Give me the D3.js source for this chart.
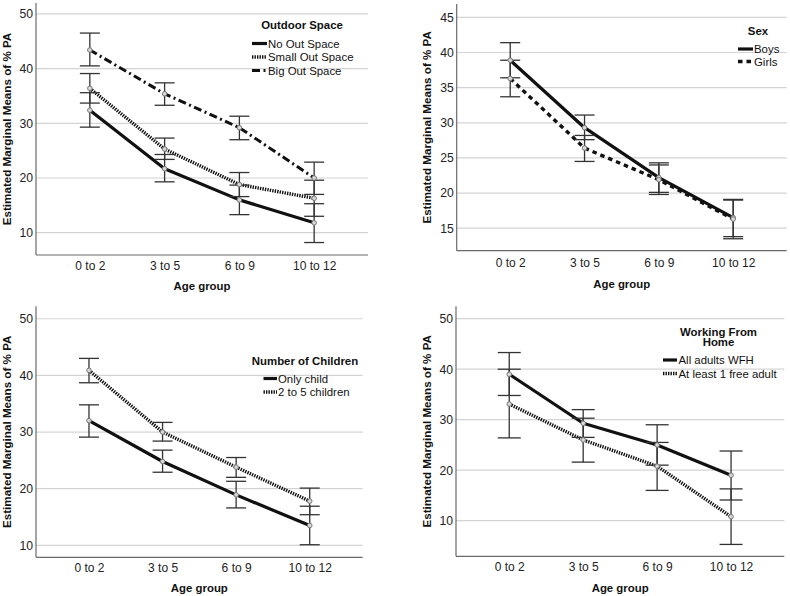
<!DOCTYPE html>
<html>
<head>
<meta charset="utf-8">
<script src="https://cdn.jsdelivr.net/npm/d3@7"></script>
<style>
  html, body { margin: 0; padding: 0; background: #fff; }
  svg { display: block; font-family: "Liberation Sans", Arial, sans-serif; }
</style>
</head>
<body>
<svg id="chart" width="790" height="596"></svg>
<script>
// ---------- DATA ----------
const ageGroups = ["0 to 2", "3 to 5", "6 to 9", "10 to 12"];

// Panel 1: Outdoor Space
const noOutMean    = [32.4, 21.7, 16.0, 11.8];
const noOutLow     = [29.3, 19.3, 13.3, 8.2];
const noOutHigh    = [35.6, 24.3, 18.7, 15.3];
const smallOutMean = [36.4, 25.3, 18.8, 16.3];
const smallOutLow  = [33.7, 23.4, 16.6, 13.0];
const smallOutHigh = [39.1, 27.3, 21.0, 19.6];
const bigOutMean   = [43.4, 35.4, 29.2, 20.0];
const bigOutLow    = [40.5, 33.3, 27.0, 17.0];
const bigOutHigh   = [46.5, 37.4, 31.3, 22.9];

// Panel 2: Sex
const boysMean  = [38.9, 29.3, 22.2, 16.5];
const boysLow   = [36.4, 27.6, 20.1, 13.8];
const boysHigh  = [41.4, 31.1, 24.3, 19.1];
const girlsMean = [36.3, 26.4, 21.9, 16.3];
const girlsLow  = [33.7, 24.5, 19.8, 13.5];
const girlsHigh = [38.9, 28.2, 24.0, 19.0];

// Panel 3: Number of Children
const onlyMean  = [32.0, 24.8, 18.9, 13.5];
const onlyLow   = [29.1, 22.9, 16.6, 10.1];
const onlyHigh  = [34.8, 26.8, 21.3, 16.9];
const multiMean = [40.9, 30.0, 23.8, 17.8];
const multiLow  = [38.7, 28.4, 22.0, 15.4];
const multiHigh = [43.0, 31.7, 25.5, 20.1];

// Panel 4: Working From Home
const wfhMean  = [39.0, 29.3, 25.0, 19.0];
const wfhLow   = [34.8, 26.5, 21.0, 14.1];
const wfhHigh  = [43.3, 32.0, 29.0, 23.8];
const freeMean = [33.1, 26.0, 20.8, 10.8];
const freeLow  = [26.4, 21.6, 16.0, 5.3];
const freeHigh = [40.0, 30.3, 25.5, 16.3];

// Tick labels
const ticksP1 = [10, 20, 30, 40, 50];
const ticksP2 = [15, 20, 25, 30, 35, 40, 45];
const ticksP3 = [10, 20, 30, 40, 50];
const ticksP4 = [10, 20, 30, 40, 50];

const yTitle = "Estimated Marginal Means of % PA";
const xTitle = "Age group";

// ---------- STYLES ----------
const styles = {
  solid:   { dash: null,          width: 3.2 },
  dotted:  { dash: "1.4,1.1",     width: 3.4 },
  dashdot: { dash: "8,3.5,2,3.5", width: 3.0 },
  dashed:  { dash: "4.5,4",       width: 3.4 }
};

// ---------- PANELS ----------
const panels = [
  {
    x0: 36, x1: 368, yTop: 3, yBot: 255, dom: [5.92, 52.0], ticks: ticksP1, cap: 10,
    yTitleX: 11, xTickY: 270, xTitleY: 290,
    legend: { title: ["Outdoor Space"], titleX: 302, titleY: 29, lineX: 252, lineW: 15, textX: 268, rowY: [44, 57.5, 71] },
    series: [
      { name: "No Out Space",    mean: noOutMean,    low: noOutLow,    high: noOutHigh,    style: "solid" },
      { name: "Small Out Space", mean: smallOutMean, low: smallOutLow, high: smallOutHigh, style: "dotted" },
      { name: "Big Out Space",   mean: bigOutMean,   low: bigOutLow,   high: bigOutHigh,   style: "dashdot" }
    ]
  },
  {
    x0: 456.7, x1: 786.7, yTop: 4, yBot: 250.7, dom: [11.8, 46.9], ticks: ticksP2, cap: 10,
    yTitleX: 430.7, xTickY: 266.5, xTitleY: 287.5,
    legend: { title: ["Sex"], titleX: 758, titleY: 35, lineX: 738, lineW: 15, textX: 754, rowY: [49.5, 62] },
    series: [
      { name: "Boys",  mean: boysMean,  low: boysLow,  high: boysHigh,  style: "solid" },
      { name: "Girls", mean: girlsMean, low: girlsLow, high: girlsHigh, style: "dashed" }
    ]
  },
  {
    x0: 36, x1: 362.7, yTop: 306.3, yBot: 557.3, dom: [7.88, 52.2], ticks: ticksP3, cap: 10,
    yTitleX: 11, xTickY: 571.5, xTitleY: 591.5,
    legend: { title: ["Number of Children"], titleX: 305, titleY: 364.5, lineX: 263.5, lineW: 13.5, textX: 278, rowY: [379, 392.5] },
    series: [
      { name: "Only child",      mean: onlyMean,  low: onlyLow,  high: onlyHigh,  style: "solid" },
      { name: "2 to 5 children", mean: multiMean, low: multiLow, high: multiHigh, style: "dotted" }
    ]
  },
  {
    x0: 456, x1: 784.3, yTop: 306.3, yBot: 556.3, dom: [2.95, 52.46], ticks: ticksP4, cap: 11.5,
    yTitleX: 430.7, xTickY: 570.5, xTitleY: 591.5,
    legend: { title: ["Working From", "Home"], titleX: 718.5, titleY: 335.5, titleGap: 10.7, lineX: 663, lineW: 14, textX: 678.5, rowY: [360.5, 374] },
    series: [
      { name: "All adults WFH",        mean: wfhMean,  low: wfhLow,  high: wfhHigh,  style: "solid" },
      { name: "At least 1 free adult", mean: freeMean, low: freeLow, high: freeHigh, style: "dotted" }
    ]
  }
];

const svg = d3.select("#chart");

panels.forEach(p => {
  const g = svg.append("g");
  const x = d3.scalePoint().domain(ageGroups).range([p.x0, p.x1]).padding(0.72);
  const y = d3.scaleLinear().domain(p.dom).range([p.yBot, p.yTop]);

  // gridlines
  g.append("g").selectAll("line").data(p.ticks).join("line")
    .attr("x1", p.x0).attr("x2", p.x1)
    .attr("y1", d => y(d)).attr("y2", d => y(d))
    .attr("stroke", "#d4d4d4").attr("stroke-width", 1.2);

  // y axis (labels only, no tick marks)
  const yAxis = d3.axisLeft(y).tickValues(p.ticks).tickSize(0).tickPadding(3).tickFormat(d3.format("d"));
  const ya = g.append("g").attr("transform", `translate(${p.x0},0)`).call(yAxis);
  ya.select(".domain").remove();
  ya.selectAll("text").attr("font-size", 12.2).attr("fill", "#222")
    .attr("font-family", "Liberation Sans, Arial, sans-serif");

  // x axis labels
  const xAxis = d3.axisBottom(x).tickSize(0).tickPadding(0);
  const xa = g.append("g").attr("transform", `translate(0,${p.xTickY})`).call(xAxis);
  xa.select(".domain").remove();
  xa.selectAll("text").attr("font-size", 12).attr("fill", "#222").attr("dy", 0)
    .attr("font-family", "Liberation Sans, Arial, sans-serif");

  // axis frame lines
  g.append("line").attr("x1", p.x0).attr("x2", p.x0).attr("y1", p.yTop).attr("y2", p.yBot)
    .attr("stroke", "#6a6a6a").attr("stroke-width", 1.2);
  g.append("line").attr("x1", p.x0).attr("x2", p.x1).attr("y1", p.yBot).attr("y2", p.yBot)
    .attr("stroke", "#6a6a6a").attr("stroke-width", 1.2);

  // axis titles
  g.append("text").attr("x", (p.x0 + p.x1) / 2).attr("y", p.xTitleY)
    .attr("text-anchor", "middle").attr("font-weight", "bold").attr("font-size", 11.4)
    .attr("fill", "#111").text(xTitle);
  g.append("text")
    .attr("transform", `translate(${p.yTitleX},${(p.yTop + p.yBot) / 2}) rotate(-90)`)
    .attr("text-anchor", "middle").attr("font-weight", "bold").attr("font-size", 11.65)
    .attr("fill", "#111").text(yTitle);

  const line = d3.line().x((d, i) => x(ageGroups[i])).y(d => y(d));

  // lines
  p.series.forEach(s => {
    const st = styles[s.style];
    g.append("path").datum(s.mean).attr("d", line)
      .attr("fill", "none").attr("stroke", "#111").attr("stroke-width", st.width)
      .attr("stroke-dasharray", st.dash).attr("stroke-linejoin", "round");
  });

  // error bars
  p.series.forEach(s => {
    const eb = g.append("g").attr("stroke", "#333").attr("stroke-width", 1.3);
    ageGroups.forEach((a, i) => {
      const cx = x(a);
      eb.append("line").attr("x1", cx).attr("x2", cx).attr("y1", y(s.low[i])).attr("y2", y(s.high[i]));
      eb.append("line").attr("x1", cx - p.cap).attr("x2", cx + p.cap).attr("y1", y(s.low[i])).attr("y2", y(s.low[i]));
      eb.append("line").attr("x1", cx - p.cap).attr("x2", cx + p.cap).attr("y1", y(s.high[i])).attr("y2", y(s.high[i]));
    });
  });

  // markers
  p.series.forEach(s => {
    g.append("g").selectAll("circle").data(s.mean).join("circle")
      .attr("cx", (d, i) => x(ageGroups[i])).attr("cy", d => y(d)).attr("r", 2.3)
      .attr("fill", "#d8d8d8").attr("stroke", "#777").attr("stroke-width", 1);
  });

  // legend
  const L = p.legend;
  L.title.forEach((t, i) => {
    g.append("text").attr("x", L.titleX).attr("y", L.titleY + i * (L.titleGap || 0))
      .attr("text-anchor", "middle").attr("font-weight", "bold").attr("font-size", 11.4)
      .attr("fill", "#111").text(t);
  });
  p.series.forEach((s, i) => {
    const st = styles[s.style];
    const ry = L.rowY[i];
    g.append("line").attr("x1", L.lineX).attr("x2", L.lineX + L.lineW).attr("y1", ry - 0.5).attr("y2", ry - 0.5)
      .attr("stroke", "#111").attr("stroke-width", st.width).attr("stroke-dasharray", st.dash);
    g.append("text").attr("x", L.textX).attr("y", ry).attr("dy", "0.35em")
      .attr("font-size", 11.4).attr("fill", "#111").text(s.name);
  });
});
</script>
</body>
</html>
